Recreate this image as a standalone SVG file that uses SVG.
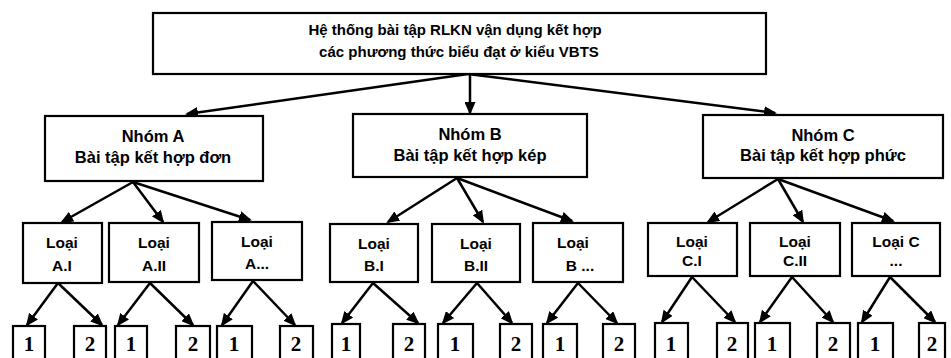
<svg xmlns="http://www.w3.org/2000/svg" width="951" height="358" viewBox="0 0 951 358">
<style>
.box{fill:#fff;stroke:#000;stroke-width:2.2}
.t{font-family:"Liberation Sans",Arial,sans-serif;font-weight:bold;font-size:16.5px;fill:#000;text-anchor:middle}
.l{font-family:"Liberation Sans",Arial,sans-serif;font-weight:bold;font-size:15.5px;fill:#000;text-anchor:middle}
.tt{font-family:"Liberation Sans",Arial,sans-serif;font-weight:bold;font-size:15px;fill:#000;text-anchor:middle}
.n{font-family:"Liberation Serif","Times New Roman",serif;font-weight:bold;font-size:21px;fill:#000;text-anchor:middle}
.c line{stroke:#000;stroke-width:2.5;marker-end:url(#ah)}
</style>
<defs>
<marker id="ah" markerUnits="userSpaceOnUse" markerWidth="13" markerHeight="11" refX="11" refY="5.5" orient="auto">
<path d="M0,0 L13,5.5 L0,11 z" fill="#000"/>
</marker>
</defs>
<rect width="951" height="358" fill="#fff"/>
<g class="c" id="connectors">
<line x1="468" y1="74" x2="187" y2="114"/>
<line x1="470" y1="74" x2="470" y2="113"/>
<line x1="468" y1="74" x2="775" y2="113"/>
<line x1="133" y1="182" x2="62" y2="222"/>
<line x1="133" y1="182" x2="163" y2="222"/>
<line x1="133" y1="182" x2="250" y2="220"/>
<line x1="457" y1="178" x2="388" y2="222"/>
<line x1="457" y1="178" x2="483" y2="222"/>
<line x1="457" y1="178" x2="572" y2="221"/>
<line x1="778" y1="179" x2="708" y2="222"/>
<line x1="778" y1="179" x2="803" y2="222"/>
<line x1="778" y1="179" x2="893" y2="221"/>
<line x1="58" y1="283" x2="27" y2="325"/>
<line x1="58" y1="283" x2="102" y2="325"/>
<line x1="150" y1="283" x2="118" y2="325"/>
<line x1="150" y1="283" x2="193" y2="325"/>
<line x1="253" y1="281" x2="222" y2="325"/>
<line x1="253" y1="281" x2="295" y2="325"/>
<line x1="373" y1="283" x2="342" y2="323"/>
<line x1="373" y1="283" x2="418" y2="323"/>
<line x1="477" y1="283" x2="443" y2="323"/>
<line x1="477" y1="283" x2="512" y2="323"/>
<line x1="578" y1="283" x2="547" y2="323"/>
<line x1="578" y1="283" x2="617" y2="323"/>
<line x1="692" y1="277" x2="662" y2="322"/>
<line x1="692" y1="277" x2="735" y2="322"/>
<line x1="792" y1="277" x2="760" y2="322"/>
<line x1="792" y1="277" x2="833" y2="322"/>
<line x1="890" y1="277" x2="862" y2="322"/>
<line x1="890" y1="277" x2="935" y2="322"/>
</g>
<g id="root"><rect class="box" x="153" y="13" width="613" height="61"/>
<text class="tt" x="455" y="35">Hệ thống bài tập RLKN vận dụng kết hợp</text>
<text class="tt" x="459" y="57">các phương thức biểu đạt ở kiểu VBTS</text></g>
<g id="nhomA"><rect class="box" x="45" y="116" width="218" height="65"/>
<text class="t" x="153" y="142">Nhóm A</text><text class="t" x="153" y="163">Bài tập kết hợp đơn</text></g>
<g id="nhomB"><rect class="box" x="353" y="114" width="234" height="63"/>
<text class="t" x="470" y="140">Nhóm B</text><text class="t" x="470" y="161">Bài tập kết hợp kép</text></g>
<g id="nhomC"><rect class="box" x="703" y="115" width="240" height="63"/>
<text class="t" x="823" y="141">Nhóm C</text><text class="t" x="823" y="161">Bài tập kết hợp phức</text></g>
<g id="loaiAI"><rect class="box" x="23" y="223" width="79" height="60"/><text class="l" x="62" y="248">Loại</text><text class="l" x="62" y="271">A.I</text></g>
<g id="loaiAII"><rect class="box" x="109" y="223" width="90" height="59"/><text class="l" x="154" y="248">Loại</text><text class="l" x="154" y="271">A.II</text></g>
<g id="loaiAx"><rect class="box" x="212" y="222" width="90" height="58"/><text class="l" x="257" y="247">Loại</text><text class="l" x="257" y="269">A...</text></g>
<g id="loaiBI"><rect class="box" x="330" y="224" width="88" height="58"/><text class="l" x="374" y="249">Loại</text><text class="l" x="374" y="271">B.I</text></g>
<g id="loaiBII"><rect class="box" x="432" y="224" width="88" height="58"/><text class="l" x="476" y="249">Loại</text><text class="l" x="476" y="271">B.II</text></g>
<g id="loaiBx"><rect class="box" x="533" y="223" width="90" height="59"/><text class="l" x="573" y="248">Loại</text><text class="l" x="580" y="271">B ...</text></g>
<g id="loaiCI"><rect class="box" x="648" y="223" width="89" height="53"/><text class="l" x="692" y="247">Loại</text><text class="l" x="692" y="266">C.I</text></g>
<g id="loaiCII"><rect class="box" x="750" y="223" width="90" height="53"/><text class="l" x="795" y="247">Loại</text><text class="l" x="795" y="266">C.II</text></g>
<g id="loaiCx"><rect class="box" x="852" y="223" width="88" height="53"/><text class="l" x="896" y="247">Loại C</text><text class="l" x="896" y="266">...</text></g>
<g id="leafA1"><rect class="box" x="13" y="326" width="32" height="40"/><text class="n" x="29" y="351">1</text></g>
<g id="leafA2"><rect class="box" x="74" y="326" width="32" height="40"/><text class="n" x="90" y="351">2</text></g>
<g id="leafA3"><rect class="box" x="115" y="326" width="32" height="40"/><text class="n" x="131" y="351">1</text></g>
<g id="leafA4"><rect class="box" x="176" y="326" width="34" height="40"/><text class="n" x="193" y="351">2</text></g>
<g id="leafA5"><rect class="box" x="217" y="326" width="35" height="40"/><text class="n" x="234" y="351">1</text></g>
<g id="leafA6"><rect class="box" x="280" y="326" width="33" height="40"/><text class="n" x="296" y="351">2</text></g>
<g id="leafB1"><rect class="box" x="332" y="324" width="28" height="42"/><text class="n" x="346" y="351">1</text></g>
<g id="leafB2"><rect class="box" x="393" y="324" width="32" height="42"/><text class="n" x="409" y="351">2</text></g>
<g id="leafB3"><rect class="box" x="438" y="324" width="35" height="42"/><text class="n" x="455" y="351">1</text></g>
<g id="leafB4"><rect class="box" x="500" y="324" width="32" height="42"/><text class="n" x="516" y="351">2</text></g>
<g id="leafB5"><rect class="box" x="543" y="324" width="34" height="42"/><text class="n" x="560" y="351">1</text></g>
<g id="leafB6"><rect class="box" x="603" y="324" width="32" height="42"/><text class="n" x="619" y="351">2</text></g>
<g id="leafC1"><rect class="box" x="655" y="323" width="33" height="43"/><text class="n" x="671" y="351">1</text></g>
<g id="leafC2"><rect class="box" x="717" y="323" width="31" height="43"/><text class="n" x="732" y="351">2</text></g>
<g id="leafC3"><rect class="box" x="755" y="323" width="35" height="43"/><text class="n" x="772" y="351">1</text></g>
<g id="leafC4"><rect class="box" x="817" y="323" width="33" height="43"/><text class="n" x="833" y="351">2</text></g>
<g id="leafC5"><rect class="box" x="858" y="323" width="35" height="43"/><text class="n" x="875" y="351">1</text></g>
<g id="leafC6"><rect class="box" x="919" y="323" width="26" height="43"/><text class="n" x="932" y="351">2</text></g>
</svg>
